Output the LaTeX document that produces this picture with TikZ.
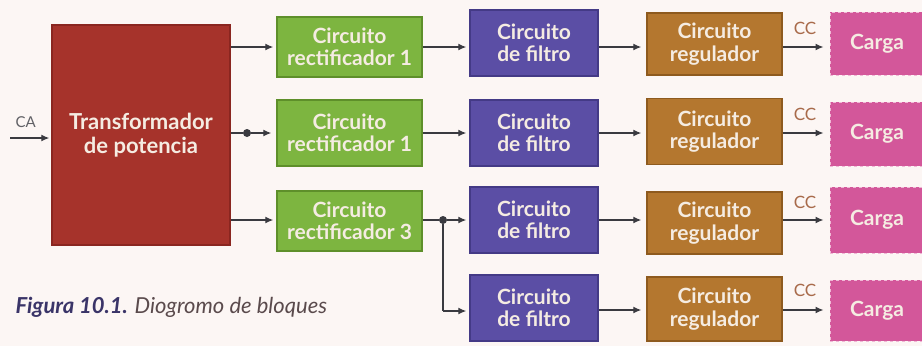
\documentclass[tikz,border=0pt]{standalone}
\usepackage{fontspec}
\setmainfont{Lato}
\usetikzlibrary{arrows.meta}
\definecolor{bgc}{HTML}{FCF6F4}
\definecolor{trc}{HTML}{A6332B}
\definecolor{trd}{HTML}{8A2620}
\definecolor{grc}{HTML}{7DB540}
\definecolor{grd}{HTML}{5E8F2A}
\definecolor{puc}{HTML}{5B4EA5}
\definecolor{pud}{HTML}{443A86}
\definecolor{brc}{HTML}{B4772F}
\definecolor{brd}{HTML}{8E5A1E}
\definecolor{pkc}{HTML}{D3579A}
\definecolor{pkd}{HTML}{F0B8D6}
\definecolor{txc}{HTML}{F5ECE2}
\definecolor{arc}{HTML}{3A3A40}
\definecolor{ccc}{HTML}{A86A4A}
\definecolor{capn}{HTML}{3A3468}
\definecolor{capt}{HTML}{5A4A4C}
\begin{document}
\begin{tikzpicture}[x=1pt,y=-1pt,
  blk/.style={rectangle, inner sep=0pt, align=center, text=txc,
    font=\fontsize{21}{22.5}\selectfont\bfseries, line width=1.4pt},
  trbox/.style={blk, fill=trc, draw=trd, font=\fontsize{22}{24}\selectfont\bfseries},
  rebox/.style={blk, fill=grc, draw=grd, minimum width=145pt},
  fibox/.style={blk, fill=puc, draw=pud, minimum width=128pt, minimum height=66pt},
  rgbox/.style={blk, fill=brc, draw=brd, minimum width=135pt},
  cabox/.style={blk, fill=pkc, draw=pkd, dashed, line width=1pt, minimum width=94pt},
  conn/.style={draw=arc, line width=1.3pt, -{Latex[length=8pt,width=7pt]}},
  wire/.style={draw=arc, line width=1.3pt},
  jdot/.style={circle, fill=arc, inner sep=0pt, minimum size=8pt},
  cclab/.style={text=ccc, font=\fontsize{17}{17}\selectfont},
]
\path[fill=bgc] (0,0) rectangle (922,346);
\useasboundingbox (0,0) rectangle (922,346);

% row coordinates
\coordinate (y1) at (0,47);
\coordinate (y2) at (0,133);
\coordinate (y3) at (0,220);
\coordinate (y4) at (0,310);

% blocks
\node[trbox, minimum width=178pt, minimum height=220pt] (T) at (141,135) {Transformador\\de potencia};

\node[rebox, minimum height=60pt] (R1) at (349.5,47) {Circuito\\rectificador 1};
\node[rebox, minimum height=66pt] (R2) at (349.5,133) {Circuito\\rectificador 1};
\node[rebox, minimum height=60pt] (R3) at (349.5,221) {Circuito\\rectificador 3};

\node[fibox] (F1) at (534,43) {Circuito\\de filtro};
\node[fibox] (F2) at (534,133) {Circuito\\de filtro};
\node[fibox] (F3) at (534,220) {Circuito\\de filtro};
\node[fibox] (F4) at (534,308) {Circuito\\de filtro};

\node[rgbox, minimum height=62pt] (G1) at (714.5,44) {Circuito\\regulador};
\node[rgbox, minimum height=66pt] (G2) at (714.5,131.5) {Circuito\\regulador};
\node[rgbox, minimum height=62pt] (G3) at (714.5,223) {Circuito\\regulador};
\node[rgbox, minimum height=64pt] (G4) at (714.5,309) {Circuito\\regulador};

\node[cabox, minimum height=63pt] (L1) at (877,43.5) {Carga};
\node[cabox, minimum height=64pt] (L2) at (877,134) {Carga};
\node[cabox, minimum height=66pt] (L3) at (877,220) {Carga};
\node[cabox, minimum height=61pt] (L4) at (877,310.5) {Carga};

% input
\coordinate (cain) at (10,138);
\node[text=arc!80, font=\fontsize{15}{15}\selectfont, anchor=south west] (calab) at (12,131) {CA};
\path[conn, shorten >=2pt] (cain) -- (cain -| T.west);

% transformer to rectifiers
\path[conn, shorten >=3pt] (T.east |- y1) -- (y1 -| R1.west);
\node[jdot] (J1) at (247,133) {};
\path[wire] (T.east |- y2) -- (J1);
\path[conn, shorten >=5pt] (J1) -- (y2 -| R2.west);
\path[conn, shorten >=3pt] (T.east |- y3) -- (y3 -| R3.west);

% rectifiers to filters
\path[conn, shorten >=3pt] (R1.east |- y1) -- (y1 -| F1.west);
\path[conn, shorten >=3pt] (R2.east |- y2) -- (y2 -| F2.west);
\node[jdot] (J3) at (443,220) {};
\path[wire] (R3.east |- y3) -- (J3);
\path[conn, shorten >=3pt] (J3) -- (y3 -| F3.west);
\coordinate (K4) at (443,311);
\path[wire] (J3) -- (K4);
\path[conn, shorten >=3pt] (K4) -- (K4 -| F4.west);

% filters to regulators
\path[conn, shorten >=5pt] (F1.east |- y1) -- (y1 -| G1.west);
\path[conn, shorten >=5pt] (F2.east |- y2) -- (y2 -| G2.west);
\path[conn, shorten >=5pt] (F3.east |- y3) -- (y3 -| G3.west);
\path[conn, shorten >=5pt] (F4.east |- y4) -- (y4 -| G4.west);

% regulators to loads
\path[conn, shorten >=6pt] (G1.east |- y1) -- (y1 -| L1.west);
\path[conn, shorten >=6pt] (G2.east |- y2) -- (y2 -| L2.west);
\path[conn, shorten >=6pt] (G3.east |- y3) -- (y3 -| L3.west);
\path[conn, shorten >=6pt] (G4.east |- y4) -- (y4 -| L4.west);

\node[cclab] (cc1) at (805,28) {CC};
\node[cclab] (cc2) at (805,114) {CC};
\node[cclab] (cc3) at (805,202) {CC};
\node[cclab] (cc4) at (805,290) {CC};

% caption
\node[anchor=west, font=\fontsize{22}{22}\selectfont\itshape, text=capt] (cap) at (12,307)
  {\textcolor{capn}{\bfseries Figura 10.1.} Diogromo de bloques};
\end{tikzpicture}
\end{document}
